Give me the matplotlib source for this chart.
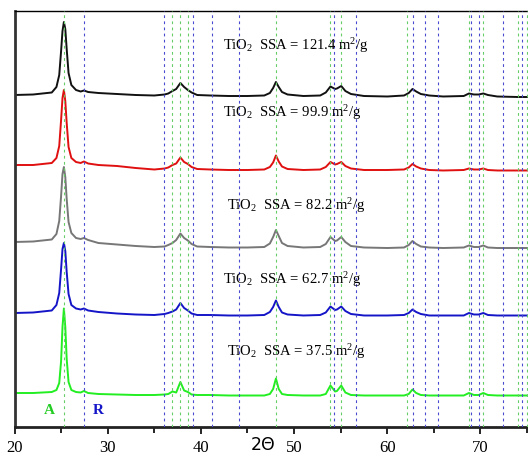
import numpy as np
import matplotlib
matplotlib.use("Agg")
import matplotlib.pyplot as plt
from matplotlib.ticker import MultipleLocator

plt.rcParams['mathtext.fontset'] = 'custom'
plt.rcParams['mathtext.rm'] = 'Liberation Serif'
plt.rcParams['mathtext.it'] = 'Liberation Serif:italic'

# 2-theta grid shared by all traces (deg)
two_theta = [20, 22, 24, 24.5, 24.8, 25.0, 25.15, 25.3, 25.45, 25.6, 25.8, 26.1, 26.6, 27.1,
             27.45, 27.9, 29, 31, 33, 35, 36.1, 36.5, 36.95, 37.35, 37.8, 38.2, 38.6, 39.0,
             39.6, 41, 43, 45, 46.8, 47.4, 47.75, 48.05, 48.35, 48.7, 49.3, 51, 52.8, 53.4,
             53.9, 54.4, 54.6, 55.06, 55.5, 56.1, 57.5, 60, 61.8, 62.3, 62.7, 63.1, 63.6,
             64.5, 66, 68.2, 68.76, 69.3, 69.8, 70.3, 70.8, 71.8, 74, 76]

# intensities (a.u.) relative to each trace's own baseline
i_121 = [0, 0.5, 2.5, 8, 20, 44, 64, 73, 66, 46, 22, 10, 5, 3.5,
         4.5, 3, 2, 1, 0, -0.5, 0.5, 1.5, 4, 6, 12, 8, 5, 2.5,
         0, -0.5, -1, -1, -0.5, 2, 7, 13, 8, 3, 0.5, -1, -0.5, 2.5,
         8.5, 6, 6.5, 9, 4, 1, -1, -1.5, -0.5, 2, 6, 3.5, 1,
         -0.5, -1.5, -1, 1.5, 0.5, 0.5, 1.5, 0, -1.5, -2, -2]
i_99 = [0, 0, 2, 7, 19, 45, 67, 75, 64, 42, 18, 7, 3, 2,
        3.5, 1.5, 0, -1, -3, -4.5, -3.5, -2.5, 0, 1.5, 7.5, 3, 1, -2,
        -4, -4.5, -5, -5, -4.5, -2, 2.5, 9.5, 3.5, -1.5, -4, -5, -4.5, -2,
        3, 0.5, 1, 3, -1, -3.5, -5, -5, -4.5, -2.5, 1, -1.5, -3.5,
        -5, -5.5, -5, -3.5, -4.5, -4.5, -3.5, -5, -5.5, -5.5, -5.5]
i_82 = [0, 0.5, 2.5, 8, 21, 46, 68, 75, 65, 43, 20, 9, 4, 3,
        4, 2, -1, -2.5, -4, -5, -4.5, -3, -1, 2, 8.5, 4, 1.5, -2,
        -4.5, -5, -5.5, -5.5, -5, -1.5, 5, 12, 6, -1, -4, -5.5, -5, -2,
        5, 1, 1.5, 5, 0, -4, -5.5, -6, -5.5, -3, 1, -2, -4.5,
        -5.5, -6, -5.5, -3.5, -5, -5, -3.5, -5.5, -6, -6, -6]
i_63 = [0, 0.5, 2.5, 8, 20, 44, 64, 70, 62, 41, 19, 8, 4.5, 3.5,
        4.5, 2.5, 1, -0.5, -1.5, -2, -1, 0, 1.5, 3.5, 10, 5, 2.5, -0.5,
        -2, -2, -2.5, -2.5, -2, 1, 6, 12.5, 6, 0.5, -1.5, -2.5, -2, 0.5,
        6.5, 3, 3.5, 6.5, 2, -1, -2.5, -2.5, -2, 0, 3.5, 1, -1,
        -2.5, -2.5, -2.5, 0, -1.5, -1.5, 0, -2, -2.5, -2.5, -2.5]
i_37 = [0, 0, 1, 3, 10, 32, 66, 84.5, 66, 34, 11, 3, 1, 0.5,
        2, 0, -1, -1.5, -2, -2, -1.5, -1, 1.5, 0.5, 11, 2.5, 1, -1.5,
        -2, -2, -2.5, -2.5, -2.5, -1, 4, 14.5, 4, -1, -2, -2.5, -2.5, -1,
        7.5, 1.5, 2, 7.5, 0.5, -2, -2.5, -2.5, -2.5, -1, 3.5, 0, -2,
        -2.5, -2.5, -2.5, 0, -2, -2, 0, -2, -2.5, -2.5, -2.5]

traces = [i_121, i_99, i_82, i_63, i_37]
ssa = ['121.4', '99.9', '82.2', '62.7', '37.5']
colors = ['#111111', '#e01010', '#777777', '#1515c8', '#22ee22']
offsets = [332, 262, 185, 114, 34]
label_y = [381, 314, 221, 147, 75]
label_x = [42.4, 42.4, 42.8, 42.4, 42.8]

# reference lines
anatase = [25.28, 36.95, 37.80, 38.58, 48.05, 53.89, 55.06, 62.12, 68.76, 70.31, 74.03, 75.03]
rutile = [27.45, 36.09, 39.19, 41.23, 44.05, 54.32, 56.64, 62.74, 64.04, 65.48, 69.01,
          69.79, 72.41, 74.41]

fig = plt.figure(figsize=(5.28, 4.55), dpi=100)
ax = fig.add_axes([14.5 / 528, 28 / 455, 57 * 9.32 / 528, 416 / 455])

for a in anatase:
    ax.axvline(a, color='#66cc66', lw=0.8, ls=(0, (2.5, 3)), zorder=3)
for r in rutile:
    ax.axvline(r, color='#4a4ad0', lw=0.8, ls=(0, (2.5, 3)), zorder=3)

x = np.array(two_theta)
for y, c, off, s, lx, ly in zip(traces, colors, offsets, ssa, label_x, label_y):
    ax.plot(x, np.array(y) + off, color=c, lw=1.4, zorder=2)
    ax.text(lx, ly, r'TiO$_2$  SSA = ' + s + r' m$^2$/g',
            fontfamily='Liberation Serif', fontsize=10.5, va='center', ha='left')

ax.text(23.7, 17, 'A', color='#22cc22', fontfamily='Liberation Serif',
        fontsize=11, fontweight='bold', ha='center', va='center')
ax.text(29.0, 17, 'R', color='#1515c8', fontfamily='Liberation Serif',
        fontsize=11, fontweight='bold', ha='center', va='center')

ax.set_xlim(20, 77)
ax.set_ylim(0, 416)
ax.set_yticks([])
ax.xaxis.set_major_locator(MultipleLocator(10))
ax.xaxis.set_minor_locator(MultipleLocator(5))
ax.tick_params(axis='x', which='major', direction='out', length=5, width=1.2, pad=4,
               labelsize=12)
ax.tick_params(axis='x', which='minor', direction='out', length=4, width=1.2)
for lab in ax.get_xticklabels():
    lab.set_fontfamily('Liberation Serif')
ax.spines['left'].set_linewidth(2)
ax.spines['left'].set_color('#333333')
ax.spines['bottom'].set_linewidth(2)
ax.spines['bottom'].set_color('#222222')
ax.spines['top'].set_linewidth(1)
ax.spines['right'].set_visible(False)

ax.set_xlabel('2Θ', fontsize=12.5)
ax.xaxis.set_label_coords((46.7 - 20) / 57, -0.022)

fig.savefig('out.png', dpi=100)
